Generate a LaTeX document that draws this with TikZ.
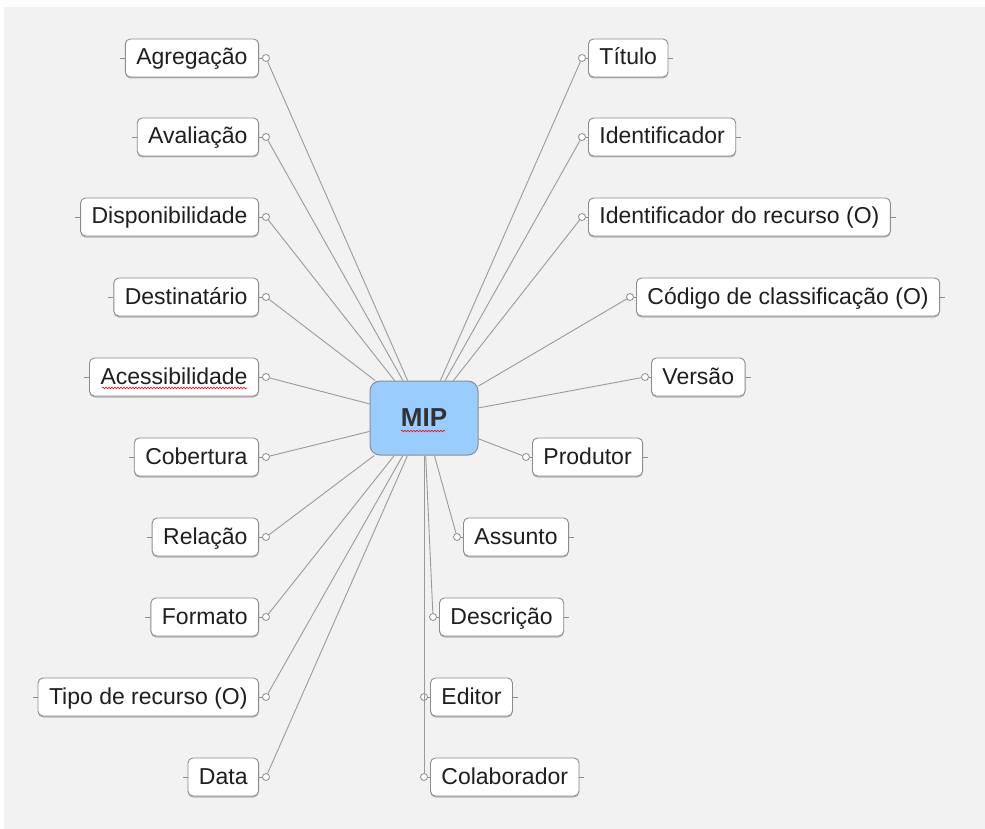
\documentclass[tikz,border=0pt]{standalone}
\usepackage{fontspec}
\setmainfont{Liberation Sans}
\usetikzlibrary{shadows,decorations.pathmorphing}
\definecolor{bg}{HTML}{F2F2F2}
\definecolor{edgegray}{HTML}{8C8C8C}
\definecolor{conngray}{HTML}{9A9A9A}
\definecolor{mipblue}{HTML}{99CCFF}
\definecolor{txt}{HTML}{1E1E1E}
\begin{document}
\begin{tikzpicture}[x=1pt,y=-1pt,
  leaf/.style={draw=edgegray, fill=white, rounded corners=5pt, minimum height=38pt,
    inner xsep=11pt, inner ysep=0pt, text height=17pt, text depth=3pt,
    font=\fontsize{23}{25}\selectfont, text=txt, line width=0.9pt,
    drop shadow={shadow xshift=0pt, shadow yshift=-1.5pt, opacity=0.25, fill=black}},
  dot/.style={circle, draw=edgegray, fill=white, inner sep=0pt, minimum size=7pt, line width=0.8pt},
  conn/.style={draw=conngray, line width=0.9pt},
  tickline/.style={draw=edgegray, line width=0.9pt},
  squiggle/.style={draw=red, line width=0.6pt, decorate,
    decoration={snake, amplitude=0.8pt, segment length=3pt}}]
\useasboundingbox (0,0) rectangle (985,829);
\fill[bg] (4,7) rectangle (985,829);

% central node
\node[draw=edgegray, fill=mipblue, rounded corners=10pt, minimum width=108pt, minimum height=74pt,
  line width=1pt, font=\fontsize{26}{28}\selectfont\bfseries, text={rgb,255:red,50;green,50;blue,50},
  inner sep=0pt, text height=19pt, text depth=3pt] (mip) at (424,418) {MIP};
\draw[squiggle] (401,431) -- (445,431);

% left nodes
\foreach \n/\t/\y in {A1/Agregação/58, A2/Avaliação/137, A3/Disponibilidade/217,
  A4/Destinatário/297, A5/Acessibilidade/377, A6/Cobertura/457, A7/Relação/537,
  A8/Formato/617, A9/Tipo de recurso (O)/697, A10/Data/777}{
  \node[leaf, anchor=east] (\n) at (259,\y) {\t};
  \node[dot] (d\n) at (266,\y) {};
  \draw[tickline] (\n.west) -- ++(-5,0);
  \draw[tickline] (\n.east) -- (d\n.west);
  \draw[conn] (mip) -- (d\n);
}
\draw[squiggle] (102,388) -- (247,388);

% right nodes
\foreach \n/\t/\x/\y in {B1/Título/588/58, B2/Identificador/588/137,
  B3/Identificador do recurso (O)/588/217, B4/Código de classificação (O)/636/297,
  B5/Versão/651/377, B6/Produtor/532/457, B7/Assunto/463/537, B8/Descrição/439/617,
  B9/Editor/430/697, B10/Colaborador/430/777}{
  \node[leaf, anchor=west] (\n) at (\x,\y) {\t};
  \node[dot] (d\n) at (\x-6,\y) {};
  \draw[tickline] (\n.east) -- ++(5,0);
  \draw[tickline] (\n.west) -- (d\n.east);
  \draw[conn] (mip) -- (d\n);
}
\end{tikzpicture}
\end{document}
